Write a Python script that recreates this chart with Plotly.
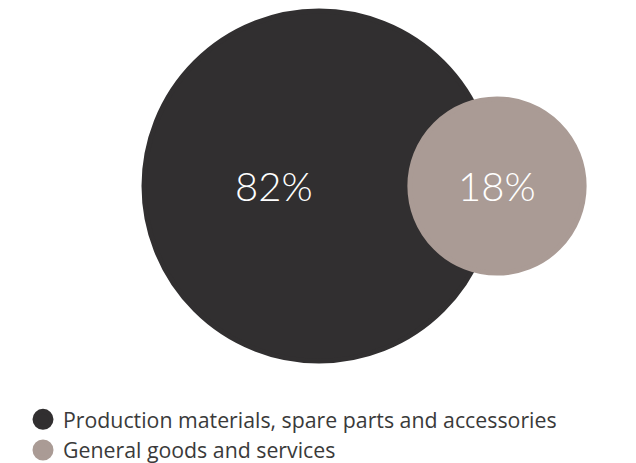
import plotly.graph_objects as go

# ---- data ----
categories = ["Production materials, spare parts and accessories", "General goods and services"]
values = [82, 18]
labels = [f"{v}%" for v in values]
colors = ["#312f30", "#aa9b95"]

W, H = 636, 463
MAX_D = 350          # marker diameter (px) for the largest value
EXP = 0.46           # diameter scale exponent
LINE_W = 5
label_shift = [-45, 0]
CY = 186             # vertical pixel position of the bubble row

fig = go.Figure()
vmax = max(values)
for i, (cat, v, col) in enumerate(zip(categories, values, colors)):
    size = MAX_D * (v / vmax) ** EXP
    fig.add_trace(go.Scatter(
        x=[i], y=[0], mode="markers", name=cat,
        marker=dict(size=size, color=col, opacity=1,
                    line=dict(width=LINE_W, color=col)),
        hoverinfo="skip",
    ))
    fig.add_annotation(x=i, y=0, text=labels[i], showarrow=False,
                       xshift=label_shift[i], yshift=0,
                       font=dict(family="Lato", size=40, color="white", weight=300))

fig.update_layout(
    width=W, height=H,
    margin=dict(l=0, r=0, t=0, b=0, autoexpand=False),
    paper_bgcolor="white", plot_bgcolor="white",
    xaxis=dict(range=[-319 / 178, (W - 319) / 178], visible=False, fixedrange=True),
    yaxis=dict(range=[-(H - CY) / 100, CY / 100], visible=False, fixedrange=True),
    showlegend=True,
    legend=dict(x=23 / W, xanchor="left", y=1 - 399 / H, yanchor="top",
                font=dict(family="Open Sans", size=21.3, color="#3a3a3a"),
                itemsizing="trace", traceorder="normal",
                bgcolor="rgba(0,0,0,0)"),
    font=dict(family="Lato"),
)

fig.write_html("out.html", config={"displayModeBar": False},
               post_script="document.body.style.margin='0';")
